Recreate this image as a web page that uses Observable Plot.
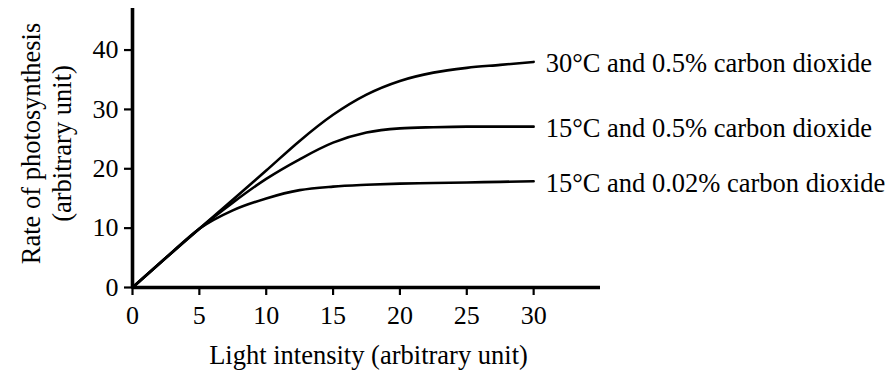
<!DOCTYPE html>
<html>
<head>
<meta charset="utf-8">
<script src="https://cdn.jsdelivr.net/npm/d3@7"></script>
<script src="https://cdn.jsdelivr.net/npm/@observablehq/plot@0.6"></script>
<style>
  html, body { margin: 0; padding: 0; background: #fff; }
</style>
</head>
<body>
<div id="chart"></div>
<script>
// Light intensity (arbitrary unit)
const lightIntensity = [0, 2.5, 5, 7.5, 10, 12.5, 15, 17.5, 20, 22.5, 25, 27.5, 30];
// Rate of photosynthesis for each condition
const rate30C05 = [0, 5, 9.9, 14.8, 19.7, 24.7, 29.1, 32.5, 34.8, 36.2, 37.0, 37.5, 38.0];
const rate15C05 = [0, 5, 9.9, 14.3, 18.3, 21.6, 24.4, 26.1, 26.8, 27.0, 27.1, 27.1, 27.1];
const rate15C002 = [0, 5, 9.9, 13.0, 15.0, 16.4, 17.0, 17.3, 17.5, 17.6, 17.7, 17.8, 17.9];
const seriesNames = [
  "30°C and 0.5% carbon dioxide",
  "15°C and 0.5% carbon dioxide",
  "15°C and 0.02% carbon dioxide"
];
const xTicks = [0, 5, 10, 15, 20, 25, 30];
const yTicks = [0, 10, 20, 30, 40];
const xLabel = "Light intensity (arbitrary unit)";
const yLabel = "Rate of photosynthesis\n(arbitrary unit)";

const seriesValues = [rate30C05, rate15C05, rate15C002];
const rows = seriesValues.flatMap((vals, s) =>
  vals.map((v, i) => ({series: seriesNames[s], x: lightIntensity[i], y: v})));
const ends = seriesValues.map((vals, s) => ({
  series: seriesNames[s], x: lightIntensity[lightIntensity.length - 1], y: vals[vals.length - 1]
}));

const font = "'Liberation Serif', 'Times New Roman', Times, serif";

const chart = Plot.plot({
  width: 886,
  height: 371,
  marginLeft: 132,
  marginRight: 286,
  marginTop: 8,
  marginBottom: 84,
  x: {domain: [0, 35], label: null},
  y: {domain: [0, 47], label: null},
  style: {fontFamily: font, fontSize: "26px", color: "#000", background: "#fff", overflow: "visible"},
  marks: [
    Plot.axisX({ticks: xTicks, tickSize: 8, tickPadding: 10, strokeWidth: 2.2, fontSize: 26, label: null, tickFormat: d => String(d)}),
    Plot.axisY({ticks: yTicks, tickSize: 8, tickPadding: 6, strokeWidth: 2.2, fontSize: 26, label: null, tickFormat: d => String(d)}),
    Plot.line(rows, {x: "x", y: "y", z: "series", curve: "monotone-x", stroke: "#000", strokeWidth: 2.6}),
    Plot.ruleX([0], {stroke: "#000", strokeWidth: 3.6}),
    Plot.ruleY([0], {stroke: "#000", strokeWidth: 3.6}),
    Plot.text(ends, {x: "x", y: "y", text: "series", textAnchor: "start", lineAnchor: "middle", dx: 12, dy: 2, fontSize: 26.5, fill: "#000"}),
    Plot.text([xLabel], {frameAnchor: "bottom", textAnchor: "middle", lineAnchor: "top", dy: 58, dx: 2, fontSize: 26.5, fill: "#000"}),
    Plot.text([yLabel], {frameAnchor: "left", textAnchor: "middle", rotate: -90, lineAnchor: "top", lineHeight: 1.15, dx: -114, dy: -4.5, fontSize: 26.5, fill: "#000"})
  ]
});
document.getElementById("chart").appendChild(chart);
</script>
</body>
</html>
